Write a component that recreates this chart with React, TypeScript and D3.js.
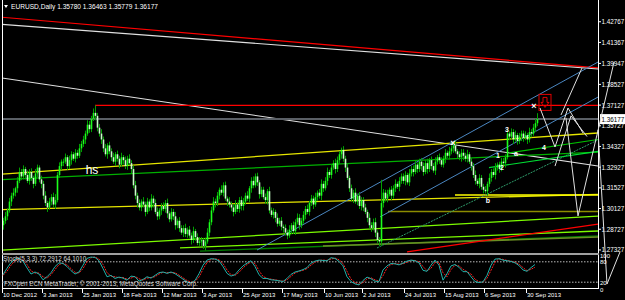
import React from 'react';
import * as d3 from 'd3';

const W = 625;
const H = 300;

// ---- price data (pips, 1/10000) ----
const firstOpen = 12900;
const closes = [
  12930, 12960, 13000, 13060, 13100, 13120, 13150, 13200, 13260, 13230,
  13280, 13240, 13200, 13260, 13220, 13180, 13250, 13290, 13210, 13180,
  13100, 13050, 13020, 13060, 13090, 13040, 13070, 13240, 13300, 13330,
  13330, 13360, 13300, 13340, 13380, 13350, 13390, 13370, 13420, 13450,
  13480, 13520, 13580, 13550, 13620, 13660, 13640, 13560, 13520, 13480,
  13420, 13380, 13440, 13400, 13360, 13330, 13380, 13350, 13310, 13360,
  13340, 13300, 13350, 13320, 13280, 13170, 13100, 13050, 13020, 13060,
  13040, 12990, 13060, 13020, 13080, 13050, 12990, 12960, 13000, 13030,
  13010, 13050, 12980, 12940, 12990, 12960, 12900, 12930, 12880, 12850,
  12880, 12840, 12870, 12830, 12800, 12860, 12820, 12780, 12790, 12800,
  12760, 12790, 12850, 12920, 13000, 13060, 13050, 13100, 13140, 13120,
  13170, 13080, 13060, 13040, 13020, 12990, 13040, 13010, 13070, 13030,
  13060, 13100, 13080, 13150, 13200, 13170, 13230, 13190, 13110, 13140,
  13090, 13070, 13130, 13000, 12970, 12990, 12950, 12910, 12930, 12890,
  12880, 12850, 12830, 12870, 12900, 12860, 12920, 12950, 12900, 12930,
  12970, 13010, 12990, 13050, 13080, 13040, 13090, 13120, 13100, 13180,
  13150, 13200, 13260, 13240, 13290, 13320, 13280, 13340, 13380, 13410,
  13350, 13290, 13220, 13150, 13080, 13120, 13060, 13100, 13030, 13070,
  13020, 12990, 12950, 12900, 12880, 12920, 12850, 12800, 12790, 13050,
  13120, 13080, 13110, 13140, 13100, 13150, 13180, 13160, 13200, 13230,
  13200, 13240, 13190, 13250, 13280, 13260, 13310, 13280, 13330, 13300,
  13260, 13320, 13280, 13340, 13300, 13270, 13330, 13360, 13340, 13310,
  13350, 13390, 13370, 13400, 13420, 13440, 13400, 13380, 13360, 13390,
  13370, 13350, 13380, 13330, 13300, 13240, 13200, 13180, 13220, 13160,
  13140, 13130, 13180, 13220, 13260, 13240, 13290, 13310, 13280, 13330,
  13320, 13360, 13520, 13500, 13530, 13480, 13510, 13470, 13500, 13520,
  13490, 13510, 13480, 13530, 13520, 13560, 13590, 13618,
];
const upWicks = [
  20, 30, 15, 25, 20, 30, 10, 25, 30, 20,
  25, 15, 30, 20, 25, 15, 30, 20, 15, 25,
  20, 30, 15, 25, 20, 30, 40, 20, 25, 15,
  20, 25, 15, 30, 20, 15, 25, 20, 30, 20,
  25, 20, 30, 25, 20, 30, 51, 20, 25, 30,
  20, 30, 15, 25, 20, 30, 15, 25, 20, 30,
  15, 25, 20, 30, 20, 25, 30, 20, 25, 15,
  30, 20, 25, 15, 30, 20, 25, 30, 15, 20,
  25, 20, 30, 15, 25, 20, 30, 15, 25, 20,
  20, 30, 15, 25, 20, 30, 15, 25, 30, 20,
  15, 25, 30, 20, 25, 30, 20, 25, 15, 30,
  20, 25, 15, 30, 20, 25, 30, 15, 20, 25,
  25, 20, 30, 15, 25, 30, 20, 25, 15, 20,
  20, 25, 15, 30, 20, 25, 15, 30, 20, 25,
  15, 25, 20, 30, 15, 25, 20, 30, 25, 20,
  25, 20, 30, 15, 25, 20, 30, 15, 25, 30,
  20, 25, 30, 15, 25, 20, 30, 25, 20, 15,
  25, 20, 30, 15, 25, 20, 30, 15, 25, 20,
  20, 25, 15, 30, 20, 25, 30, 15, 20, 157,
  25, 20, 30, 15, 25, 20, 30, 15, 25, 20,
  20, 25, 15, 30, 20, 25, 30, 15, 20, 25,
  25, 20, 30, 15, 25, 20, 30, 15, 25, 20,
  20, 25, 15, 30, 20, 25, 30, 15, 20, 25,
  25, 20, 30, 15, 25, 20, 30, 15, 25, 20,
  20, 25, 15, 30, 20, 25, 30, 15, 20, 25,
  25, 20, 30, 15, 25, 20, 30, 15, 25, 20,
  20, 25, 15, 30, 20, 25, 30, 40,
];
const dnWicks = [
  30, 20, 25, 15, 30, 20, 25, 30, 15, 25,
  20, 30, 15, 25, 20, 30, 15, 25, 20, 30,
  25, 20, 30, 15, 25, 20, 30, 15, 20, 25,
  30, 15, 25, 20, 30, 15, 25, 20, 15, 25,
  20, 30, 15, 25, 20, 15, 30, 25, 20, 30,
  25, 15, 30, 20, 25, 15, 30, 20, 25, 15,
  30, 20, 25, 15, 30, 20, 25, 30, 20, 25,
  20, 30, 15, 25, 20, 30, 15, 25, 20, 30,
  15, 25, 30, 20, 15, 25, 30, 20, 25, 15,
  30, 20, 25, 15, 30, 20, 25, 15, 20, 30,
  20, 30, 15, 25, 20, 15, 30, 20, 25, 15,
  25, 15, 30, 20, 25, 30, 15, 20, 25, 30,
  30, 20, 15, 25, 30, 20, 15, 25, 30, 20,
  15, 25, 30, 20, 15, 25, 30, 20, 15, 25,
  30, 20, 25, 15, 30, 20, 25, 15, 30, 20,
  20, 30, 15, 25, 20, 30, 15, 25, 20, 30,
  25, 15, 30, 20, 25, 15, 30, 20, 25, 30,
  20, 30, 15, 25, 20, 30, 15, 25, 20, 30,
  25, 15, 30, 20, 25, 15, 30, 20, 30, 30,
  30, 20, 25, 15, 30, 20, 25, 15, 30, 20,
  20, 30, 15, 25, 20, 30, 15, 25, 20, 30,
  25, 15, 30, 20, 25, 15, 30, 20, 25, 15,
  20, 30, 15, 25, 20, 30, 15, 25, 20, 30,
  30, 20, 25, 15, 30, 20, 25, 15, 30, 20,
  25, 15, 30, 20, 25, 15, 30, 20, 25, 15,
  20, 30, 15, 25, 20, 30, 15, 25, 20, 30,
  25, 15, 30, 20, 25, 15, 30, 20,
];

// ---- stochastic (sampled every 2 bars) ----
const stochK = [
  42, 61, 78, 88, 90, 82, 62, 44, 50, 44, 27, 36, 48, 66, 77, 75, 66, 54, 44, 50,
  70, 90, 94, 93, 83, 60, 36, 40, 31, 35, 32, 26, 38, 36, 23, 28, 36, 32, 40, 48,
  50, 46, 50, 45, 37, 29, 21, 18, 25, 45, 70, 85, 89, 88, 83, 66, 46, 38, 42, 56,
  68, 76, 83, 66, 42, 31, 31, 27, 26, 24, 22, 31, 43, 50, 53, 57, 63, 76, 82, 85,
  84, 83, 92, 90, 81, 68, 36, 22, 15, 12, 25, 35, 30, 23, 22, 56, 68, 75, 74, 71,
  76, 82, 85, 83, 77, 55, 52, 70, 85, 70, 26, 45, 68, 72, 64, 51, 51, 36, 22, 19,
  21, 40, 70, 88, 89, 85, 83, 81, 77, 69, 56, 52, 63, 72,
];
const stochD = [
  40, 52, 70, 83, 89, 86, 72, 53, 47, 47, 36, 32, 42, 57, 72, 76, 71, 60, 49, 47,
  60, 80, 92, 94, 88, 72, 48, 38, 36, 33, 34, 29, 32, 37, 30, 26, 32, 34, 36, 44,
  49, 48, 48, 48, 41, 33, 25, 20, 22, 35, 58, 78, 87, 89, 86, 75, 56, 42, 40, 49,
  62, 72, 80, 75, 54, 37, 31, 29, 27, 25, 23, 27, 37, 47, 52, 55, 60, 70, 79, 84,
  85, 84, 88, 91, 86, 75, 52, 29, 19, 14, 19, 30, 33, 27, 23, 39, 62, 72, 75, 73,
  74, 79, 84, 84, 80, 66, 54, 61, 78, 78, 48, 36, 57, 70, 68, 58, 51, 44, 29, 21,
  20, 31, 55, 79, 89, 87, 84, 82, 79, 73, 63, 54, 58, 64,
];

const priceTicks = ['1.42767', '1.41367', '1.39947', '1.38527', '1.37127', '1.35727', '1.34327', '1.32927', '1.31527', '1.30127', '1.28727', '1.27327'];
const dateLabels = ['10 Dec 2012', '3 Jan 2013', '25 Jan 2013', '18 Feb 2013', '12 Mar 2013', '3 Apr 2013', '25 Apr 2013', '17 May 2013', '10 Jun 2013', '2 Jul 2013', '24 Jul 2013', '15 Aug 2013', '6 Sep 2013', '30 Sep 2013'];
const dateBars = [0, 20, 40, 60, 80, 100, 120, 140, 161, 180, 201, 221, 241, 262];
const stochLevels = ['100', '80', '20', '0'];

// trend lines: [bar1, pips1, bar2, pips2]
const trendLines = [
  { pts: [-0.5, 14307, 297.5, 13964], color: '#ff0000', w: 1.2 },
  { pts: [-0.5, 14259, 297.5, 13957], color: '#e0e0e0', w: 1.1 },
  { pts: [-0.5, 13896, 297.5, 13301], color: '#e0e0e0', w: 1.1 },
  { pts: [-0.5, 13618, 297.5, 13618], color: '#5a5f66', w: 2 },
  { pts: [46, 13711, 297.5, 13711], color: '#ff0000', w: 1.2 },
  { pts: [-0.5, 13246, 297.5, 13524], color: '#e6e600', w: 1.3 },
  { pts: [-0.5, 13006, 297.5, 13108], color: '#e6e600', w: 1.3 },
  { pts: [226, 13104, 297.5, 13104], color: '#ffff00', w: 1.5 },
  { pts: [192.5, 12993, 297.5, 12993], color: '#8c8c00', w: 1.6 },
  { pts: [-0.5, 13209, 297.5, 13395], color: '#00b000', w: 1.3 },
  { pts: [-0.5, 12732, 297.5, 12962], color: '#7cfc00', w: 1.3 },
  { pts: [88.5, 12746, 297.5, 12861], color: '#7cfc00', w: 1.3 },
  { pts: [98.5, 12725, 297.5, 12828], color: '#008000', w: 1.3 },
  { pts: [160, 12760, 297.5, 12820], color: '#6b8e23', w: 1.5 },
  { pts: [202, 12719, 297.5, 12908], color: '#ff0000', w: 1.2 },
  { pts: [127, 12732, 297.5, 14004], color: '#4a86c0', w: 1 },
  { pts: [188.5, 12956, 297.5, 13767], color: '#4a86c0', w: 1 },
  { pts: [187, 12746, 297.5, 13477], color: '#2e9b6a', w: 1, dash: '2,1' },
  { pts: [253, 13390, 297.5, 13480], color: '#00c000', w: 1.2 },
  { pts: [243, 13290, 297.5, 13400], color: '#00dd33', w: 1.2 },
];

// projection zigzags: list of [bar, pips]
const zigzags = [
  [[268.5, 13693], [276, 13429], [282.5, 13693], [290, 13524]],
  [[281.5, 13626], [287.5, 12963], [305.5, 14004]],
  [[279, 13646], [289.5, 13964]],
  [[276, 13300], [284, 13640], [292, 13500]],
  [[297.5, 13544], [302, 12502], [308.5, 12719]],
];

const marks = [
  { t: 'hs', b: 44.5, p: 13267, size: 12 },
  { t: '1', b: 247.5, p: 13370, size: 7 },
  { t: '2', b: 249.5, p: 13285, size: 7 },
  { t: '3', b: 252, p: 13540, size: 7 },
  { t: 'a', b: 256.5, p: 13380, size: 7 },
  { t: '4', b: 270.5, p: 13420, size: 7 },
  { t: 'b', b: 242.5, p: 13060, size: 7 },
];
const crossMarks = [
  [225, 13456],
  [265.5, 13707],
];

export default function App() {
  const x = d3.scaleLinear().domain([0, 267]).range([3, 537]);
  const y = d3.scaleLinear().domain([12712, 14417]).range([253, 1]);
  const ys = d3.scaleLinear().domain([0, 100]).range([289, 255]);

  const bars = closes.map((c, i) => {
    const o = i === 0 ? firstOpen : closes[i - 1];
    const hi = Math.max(o, c) + upWicks[i];
    const lo = Math.min(o, c) - dnWicks[i];
    return { i, o, c, hi, lo };
  });

  const stochLine = d3
    .line<number>()
    .x((_, k) => x(k * 2))
    .y((v) => ys(v));

  const font = 'Liberation Sans, Arial, sans-serif';

  return (
    <svg width={W} height={H} style={{ position: 'absolute', left: 0, top: 0, background: '#000' }}>
      <rect x={0} y={0} width={W} height={H} fill="#000" />
      <defs>
        <clipPath id="main">
          <rect x={2} y={0} width={596} height={253} />
        </clipPath>
        <clipPath id="sto">
          <rect x={2} y={254} width={596} height={34} />
        </clipPath>
      </defs>

      {/* trend lines */}
      <g clipPath="url(#main)">
        {trendLines.map((l, k) => (
          <line
            key={k}
            x1={x(l.pts[0])}
            y1={y(l.pts[1])}
            x2={x(l.pts[2])}
            y2={y(l.pts[3])}
            stroke={l.color}
            strokeWidth={l.w}
            strokeDasharray={l.dash}
          />
        ))}
        {/* candles */}
        {bars.map((b) => {
          const cx = Math.round(x(b.i));
          const up = b.c >= b.o;
          const top = y(Math.max(b.o, b.c));
          const bot = y(Math.min(b.o, b.c));
          return (
            <g key={b.i}>
              <rect x={cx} y={y(b.hi)} width={1} height={y(b.lo) - y(b.hi)} fill="#00a000" />
              <rect x={cx - 0.3} y={top} width={1.6} height={Math.max(1, bot - top)} fill={up ? '#1cff1c' : '#c8ffc8'} />
            </g>
          );
        })}
        {crossMarks.map((m, k) => (
          <text key={k} x={x(m[0])} y={y(m[1]) + 3} fill="#fff" fontSize={9} fontWeight="bold" fontFamily={font} textAnchor="middle">
            ×
          </text>
        ))}
        {marks.map((m, k) => (
          <text key={k} x={x(m.b)} y={y(m.p)} fill="#fff" fontSize={m.size} fontFamily={font} fontWeight={m.size < 10 ? 'bold' : 'normal'} textAnchor="middle" dominantBaseline="middle">
            {m.t}
          </text>
        ))}
        {/* red box with arrow */}
        <g transform={`translate(${x(268)},${y(13785)})`}>
          <rect x={0} y={0} width={12} height={16} fill="none" stroke="#e00000" strokeWidth={1} />
          <path d="M4,3 L8,3 L8,8 L10,8 L6,13 L2,8 L4,8 Z" fill="none" stroke="#e00000" strokeWidth={1} />
        </g>
      </g>

      {/* title */}
      <path d="M4,5 L8,5 L6,8 Z" fill="#fff" />
      <text x={11} y={9} fill="#fff" fontSize={6.6} fontFamily={font}>
        EURUSD,Daily  1.35780 1.36463 1.35779 1.36177
      </text>

      {/* borders */}
      <line x1={2.5} x2={2.5} y1={0} y2={289} stroke="#fff" strokeWidth={1} />
      <line x1={598.5} x2={598.5} y1={0} y2={289} stroke="#fff" strokeWidth={1} />
      <line x1={2} x2={599} y1={254} y2={254} stroke="#a0a0a0" strokeWidth={2} />
      <line x1={2} x2={599} y1={288.5} y2={288.5} stroke="#fff" strokeWidth={1} />

      {/* price axis */}
      {priceTicks.map((t) => (
        <g key={t}>
          <line x1={598} x2={601} y1={y(+t * 10000)} y2={y(+t * 10000)} stroke="#fff" />
          <text x={601.5} y={y(+t * 10000) + 2.5} fill="#fff" fontSize={6.3} fontFamily={font}>
            {t}
          </text>
        </g>
      ))}
      <rect x={600} y={y(13618) - 5} width={25} height={10} fill="#fff" />
      <text x={601.5} y={y(13618) + 2.5} fill="#000" fontSize={6.3} fontFamily={font}>
        1.36177
      </text>

      {/* projection zigzags (drawn over the scale as in the source) */}
      {zigzags.map((z, k) => (
        <polyline
          key={k}
          points={z.map((p) => `${x(p[0])},${y(p[1])}`).join(' ')}
          fill="none"
          stroke="#e0e0e0"
          strokeWidth={1}
        />
      ))}

      {/* stochastic */}
      <g clipPath="url(#sto)">
        <line x1={2} x2={598} y1={ys(80)} y2={ys(80)} stroke="#bbb" strokeDasharray="1.5,1.5" />
        <line x1={2} x2={598} y1={ys(20)} y2={ys(20)} stroke="#bbb" strokeDasharray="1.5,1.5" />
        <path d={stochLine(stochD) || ''} fill="none" stroke="#ff2020" strokeWidth={1} strokeDasharray="2,1" />
        <path d={stochLine(stochK) || ''} fill="none" stroke="#20b2aa" strokeWidth={1} />
      </g>
      <text x={3} y={261} fill="#ddd" fontSize={6.3} fontFamily={font}>
        Stoch(5,3,3) 72.2912 64.1010
      </text>
      <text x={4} y={286} fill="#ddd" fontSize={6.3} fontFamily={font}>
        FXOpen ECN MetaTrader, © 2001-2013, MetaQuotes Software Corp.
      </text>
      {stochLevels.map((t) => (
        <text key={t} x={600} y={ys(+t) + 2.5} fill="#fff" fontSize={6} fontFamily={font}>
          {t}
        </text>
      ))}

      {/* date axis */}
      {dateLabels.map((d, k) => (
        <g key={d}>
          <line x1={x(dateBars[k]) - 0.5} x2={x(dateBars[k]) - 0.5} y1={289} y2={293} stroke="#fff" />
          <text x={x(dateBars[k])} y={297} fill="#fff" fontSize={6} fontFamily={font}>
            {d}
          </text>
        </g>
      ))}
    </svg>
  );
}
